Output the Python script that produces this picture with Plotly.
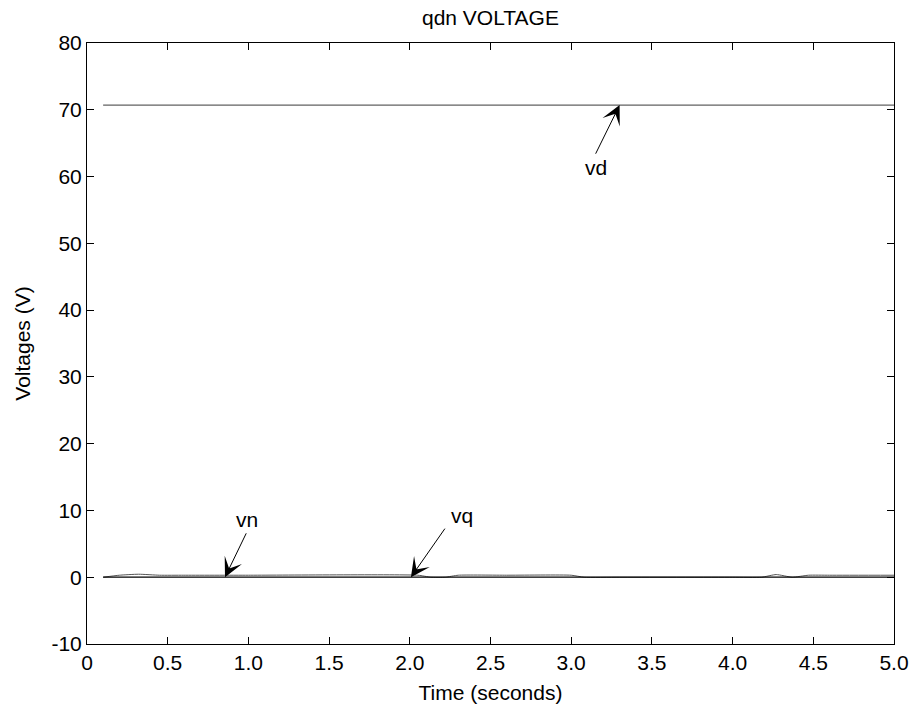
import plotly.graph_objects as go

# ---- data ----
t_vd = [0.1, 5.0]
vd = [70.7, 70.7]

t_vn = [0.1, 5.0]
vn = [0.0, 0.0]

t_vq = [0.1, 0.2, 0.32, 0.45, 0.6, 1.0, 2.05, 2.13, 2.22, 2.3, 2.6, 3.0, 3.08, 3.3, 4.0, 4.18, 4.27, 4.37, 4.47, 4.6, 5.0]
vq = [0.0, 0.3, 0.45, 0.3, 0.3, 0.3, 0.3, 0.0, 0.0, 0.3, 0.3, 0.3, 0.0, 0.0, 0.0, 0.0, 0.4, 0.0, 0.3, 0.3, 0.3]

x_tickvals = [0, 0.5, 1.0, 1.5, 2.0, 2.5, 3.0, 3.5, 4.0, 4.5, 5.0]
x_ticktext = ["0", "0.5", "1.0", "1.5", "2.0", "2.5", "3.0", "3.5", "4.0", "4.5", "5.0"]
y_tickvals = [-10, 0, 10, 20, 30, 40, 50, 60, 70, 80]
y_ticktext = ["-10", "0", "10", "20", "30", "40", "50", "60", "70", "80"]

# annotation labels: (text, head_x, head_y, tail_x, tail_y, text_x, text_y)
labels = [
    ("vd", 3.30, 70.7, 3.147, 63.2, 3.154, 61.3),
    ("vn", 0.855, 0.0, 0.991, 6.8, 0.991, 8.6),
    ("vq", 2.007, 0.0, 2.224, 7.5, 2.323, 9.3),
]

FONT = "Liberation Sans, Arial, Helvetica, sans-serif"
FS = 21

fig = go.Figure()
fig.add_trace(go.Scatter(x=t_vd, y=vd, mode="lines", name="vd",
                         line=dict(color="#3a3a3a", width=1)))
fig.add_trace(go.Scatter(x=t_vq, y=vq, mode="lines", name="vq",
                         line=dict(color="#555555", width=1, shape="spline", smoothing=0.5)))
fig.add_trace(go.Scatter(x=t_vn, y=vn, mode="lines", name="vn",
                         line=dict(color="#000000", width=1.3)))

annotations = []
for txt, hx, hy, tx, ty, lx, ly in labels:
    annotations.append(dict(x=hx, y=hy, ax=tx, ay=ty, xref="x", yref="y",
                            axref="x", ayref="y", text="", showarrow=True,
                            arrowhead=3, arrowsize=3.2, arrowwidth=1,
                            arrowcolor="black", standoff=0, startstandoff=0))
    annotations.append(dict(x=lx, y=ly, xref="x", yref="y", text=txt,
                            showarrow=False, font=dict(size=FS, color="black", family=FONT)))

fig.update_layout(
    width=914, height=704,
    paper_bgcolor="white", plot_bgcolor="white",
    margin=dict(l=87, r=20, t=43, b=60, autoexpand=False),
    showlegend=False,
    font=dict(family=FONT, size=FS, color="black"),
    title=dict(text="qdn VOLTAGE", x=0.5366, xanchor="center", y=0.975, yanchor="middle",
               font=dict(size=FS, family=FONT, color="black"), automargin=False),
    annotations=annotations,
)
fig.update_xaxes(range=[0, 5], tickvals=x_tickvals, ticktext=x_ticktext, automargin=False,
                 ticks="inside", ticklen=7, tickcolor="black", tickwidth=1,
                 showline=True, linecolor="black", linewidth=1, mirror="allticks",
                 showgrid=False, zeroline=False,
                 tickfont=dict(size=FS, family=FONT, color="black"),
                 title=dict(text="Time (seconds)",
                            font=dict(size=FS, family=FONT, color="black")))
fig.update_yaxes(range=[-10, 80], tickvals=y_tickvals, ticktext=y_ticktext, automargin=False,
                 ticks="inside", ticklen=7, tickcolor="black", tickwidth=1,
                 showline=True, linecolor="black", linewidth=1, mirror="allticks",
                 showgrid=False, zeroline=False,
                 tickfont=dict(size=FS, family=FONT, color="black"),
                 title=dict(text="Voltages (V)",
                            font=dict(size=FS, family=FONT, color="black")))

fig.write_html("out.html", config={"displayModeBar": False},
               post_script="document.body.style.margin='0';document.body.style.overflow='hidden';")
